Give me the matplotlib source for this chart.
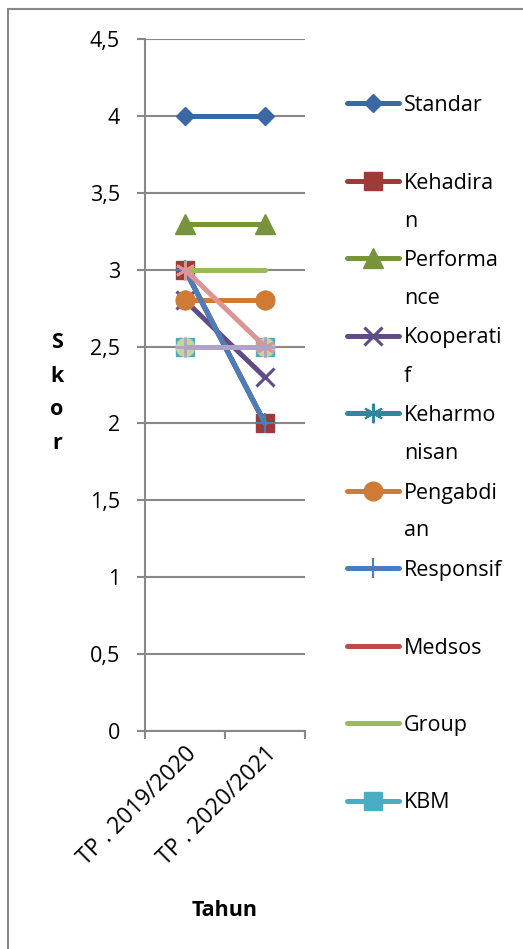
import matplotlib
matplotlib.use('Agg')
import matplotlib.pyplot as plt
from matplotlib.patches import Rectangle

plt.rcParams['font.family'] = ['Open Sans', 'DejaVu Sans']

# data
years = ["TP . 2019/2020", "TP . 2020/2021"]
series_names = ["Standar", "Kehadiran", "Performance", "Kooperatif", "Keharmonisan",
                "Pengabdian", "Responsif", "Medsos", "Group", "KBM",
                "Seri 11", "Seri 12", "Seri 13"]
# legend text as wrapped in the original (narrow legend box)
legend_text = ["Standar", "Kehadira\nn", "Performa\nnce", "Kooperati\nf", "Keharmo\nnisan",
               "Pengabdi\nan", "Responsif", "Medsos", "Group", "KBM"]
standar = [4.0, 4.0]
kehadiran = [3.0, 2.0]
performance = [3.3, 3.3]
kooperatif = [2.8, 2.3]
keharmonisan = [2.8, 2.8]
pengabdian = [2.8, 2.8]
responsif = [3.0, 2.0]
medsos = [3.0, 2.0]
group = [3.0, 3.0]
kbm = [2.5, 2.5]
seri11 = [2.5, 2.5]
seri12 = [3.0, 2.5]
seri13 = [2.5, 2.5]
y_ticks = [0, 0.5, 1, 1.5, 2, 2.5, 3, 3.5, 4, 4.5]

values = [standar, kehadiran, performance, kooperatif, keharmonisan, pengabdian,
          responsif, medsos, group, kbm, seri11, seri12, seri13]

ASTER = (6, 2, 0)  # asterisk like the office one
# style per series: color, marker, markersize, marker edge width
styles = [
    ('#3B67A5', 'D', 9, 1),
    ('#9E3B38', 's', 13, 1),
    ('#77933C', '^', 14, 1),
    ('#5F4B85', 'x', 13, 2.2),
    ('#31859C', ASTER, 14, 1.5),
    ('#CF7B36', 'o', 13.5, 1),
    ('#4A7EBB', '+', 14, 1.5),
    ('#BE4B48', None, 0, 0),
    ('#9BBB59', None, 0, 0),
    ('#4BACC6', 's', 13, 1),
    ('#C3D69B', 'o', 13, 1),
    ('#D99694', ASTER, 14, 2),
    ('#B3A2C7', '+', 14, 2),
]
# order in which the series are painted (so the overlaps look right)
draw_order = [0, 1, 2, 3, 4, 5, 7, 6, 8, 9, 10, 11, 12]
FS = 15.5

W, H = 523, 949
fig = plt.figure(figsize=(W / 100, H / 100), dpi=100)

ax = fig.add_axes([145 / W, 1 - 731 / H, 160 / W, (731 - 39) / H])
x = [1, 2]
for z, i in enumerate(draw_order):
    c, m, ms, mew = styles[i]
    ax.plot(x, values[i], color=c, lw=3.6, marker=m, ms=ms, mew=mew,
            mfc=c, mec=c, solid_capstyle='round', zorder=3 + z * 0.01)

ax.set_xlim(0.5, 2.5)
ax.set_ylim(0, 4.5)
ax.set_yticks(y_ticks)
ax.set_yticklabels([('%g' % v).replace('.', ',') for v in y_ticks])
ax.yaxis.grid(True, color='#888888', lw=1.5)
ax.set_axisbelow(True)
ax.set_xticks([0.5, 1.5, 2.5])
ax.set_xticklabels([])
ax.set_xticks(x, minor=True)
ax.set_xticklabels(years, minor=True, rotation=45, ha='right', va='top',
                   rotation_mode='anchor', fontsize=16.5)
ax.tick_params(axis='x', which='minor', length=0, pad=8)
ax.tick_params(axis='x', which='major', length=6, width=1.5, color='#888888')
ax.tick_params(axis='y', length=6, width=1.5, color='#888888', pad=12, labelsize=FS)
for s in ['top', 'right']:
    ax.spines[s].set_visible(False)
for s in ['left', 'bottom']:
    ax.spines[s].set_color('#888888')
    ax.spines[s].set_linewidth(1.5)

# y label written letter by letter, x label under the tick labels
fig.text(57 / W, 1 - 393 / H, "S\nk\no\nr", ha='center', va='center',
         fontsize=FS, fontweight='bold', linespacing=1.8)
fig.text(225 / W, 1 - 910 / H, "Tahun", ha='center', va='center',
         fontsize=FS, fontweight='bold')

# legend drawn on its own axes so the first text line sits next to the key
lax = fig.add_axes([0, 0, 1, 1])
lax.set_xlim(0, W)
lax.set_ylim(H, 0)
lax.axis('off')
for k, label in enumerate(legend_text):
    yk = 103 + k * 77.5
    c, m, ms, mew = styles[k]
    lax.plot([347, 399], [yk, yk], color=c, lw=3.6, solid_capstyle='round')
    if m:
        lax.plot([373], [yk], color=c, marker=m, ms=ms, mew=mew, mfc=c, mec=c)
    for j, part in enumerate(label.split('\n')):
        lax.text(404, yk + j * 38, part, ha='left', va='center_baseline',
                 fontsize=FS)

# chart frame (only its left and top edges are inside the picture)
fig.add_artist(Rectangle((8 / W, -0.1), 1.2, (H - 9) / H + 0.1,
                         transform=fig.transFigure, fill=False,
                         ec='#888888', lw=1.5))

fig.savefig('out.png', dpi=100)
